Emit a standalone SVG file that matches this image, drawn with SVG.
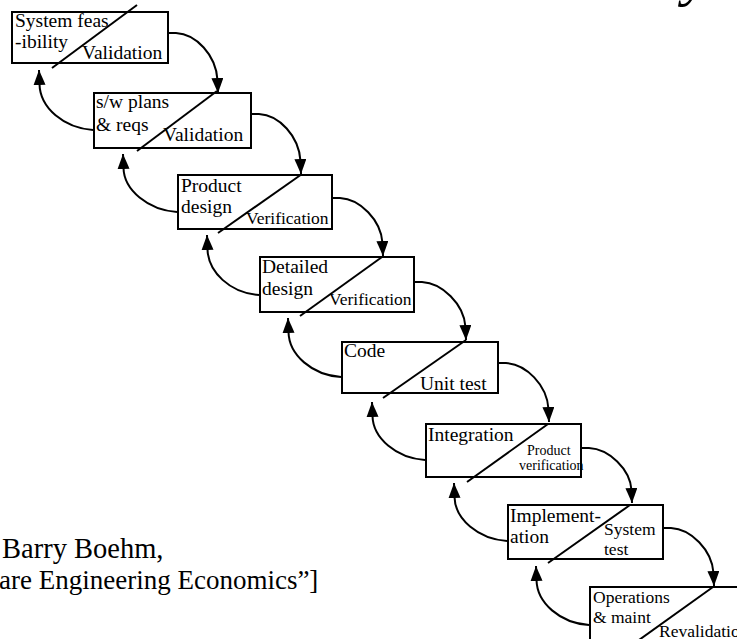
<svg xmlns="http://www.w3.org/2000/svg" width="737" height="639" viewBox="0 0 737 639">
  <style>
    .box { fill: #fff; stroke: #000; stroke-width: 2; }
    .diag { stroke: #000; stroke-width: 2; fill: none; }
    .arc { stroke: #000; stroke-width: 2; fill: none; marker-end: url(#head); }
    .lbl { font-size: 19.5px; }
    .sub { font-size: 17.5px; }
    .tiny { font-size: 14px; }
    .note { font-size: 28.5px; }
    .note2 { font-size: 27px; }
    .title { font-size: 60px; font-style: italic; }
  </style>
  <defs>
    <marker id="head" markerUnits="userSpaceOnUse" markerWidth="15" markerHeight="12" viewBox="0 0 15 12" refX="15" refY="6" orient="auto">
      <path d="M0,0 L15,6 L0,12 z" fill="#000"/>
    </marker>
  </defs>

  <rect width="737" height="639" fill="#fff"/>

  <g font-family="Liberation Serif, DejaVu Serif, serif" fill="#000">
    <!-- clipped title glyph at the top edge -->
    <text class="title" x="683" y="-6">y</text>

    <!-- reference note -->
    <text class="note" x="2" y="558">Barry Boehm,</text>
    <text class="note2" x="-1" y="589">are Engineering Economics”]</text>

    <!-- waterfall phases -->
    <g id="feasibility">
      <rect class="box" x="12" y="12" width="156" height="51"/>
      <line class="diag" x1="52" y1="68" x2="137" y2="5"/>
      <text class="lbl" x="15" y="27">System feas</text>
      <text class="lbl" x="15" y="48">-ibility</text>
      <text class="lbl" x="82" y="59">Validation</text>
    </g>

    <g id="plans">
      <rect class="box" x="94" y="93" width="157" height="55"/>
      <line class="diag" x1="137" y1="151" x2="217" y2="91"/>
      <text class="lbl" x="96" y="108">s/w plans</text>
      <text class="lbl" x="96" y="131">&amp; reqs</text>
      <text class="lbl" x="163" y="141">Validation</text>
    </g>

    <g id="product-design">
      <rect class="box" x="178" y="175" width="154" height="54"/>
      <line class="diag" x1="218" y1="233" x2="302" y2="174"/>
      <text class="lbl" x="181" y="192">Product</text>
      <text class="lbl" x="181" y="213">design</text>
      <text class="sub" x="246" y="224">Verification</text>
    </g>

    <g id="detailed-design">
      <rect class="box" x="260" y="257" width="154" height="55"/>
      <line class="diag" x1="300" y1="316" x2="382" y2="257"/>
      <text class="lbl" x="262" y="273">Detailed</text>
      <text class="lbl" x="262" y="295">design</text>
      <text class="sub" x="329" y="305">Verification</text>
    </g>

    <g id="code">
      <rect class="box" x="342" y="342" width="156" height="51"/>
      <line class="diag" x1="383" y1="398" x2="466" y2="340"/>
      <text class="lbl" x="344" y="357">Code</text>
      <text class="lbl" x="420" y="390">Unit test</text>
    </g>

    <g id="integration">
      <rect class="box" x="426" y="424" width="155" height="53"/>
      <line class="diag" x1="467" y1="482" x2="548" y2="424"/>
      <text class="lbl" x="428" y="441">Integration</text>
      <text class="tiny" x="527" y="455">Product</text>
      <text class="tiny" x="519" y="470">verification</text>
    </g>

    <g id="implementation">
      <rect class="box" x="508" y="505" width="155" height="54"/>
      <line class="diag" x1="548" y1="563" x2="630" y2="505"/>
      <text class="lbl" x="510" y="522">Implement-</text>
      <text class="lbl" x="510" y="543">ation</text>
      <text class="sub" x="604" y="535">System</text>
      <text class="sub" x="604" y="555">test</text>
    </g>

    <g id="operations">
      <rect class="box" x="590" y="587" width="156" height="55"/>
      <line class="diag" x1="632" y1="645" x2="713" y2="587"/>
      <text class="sub" x="593" y="603">Operations</text>
      <text class="sub" x="593" y="623">&amp; maint</text>
      <text class="sub" x="659" y="637">Revalidation</text>
    </g>
  </g>

  <!-- connectors: forward hand-offs and feedback loops -->
  <g id="connectors">
    <path class="arc" d="M168 33 L176 33 C196 34 216 55 217.5 80 L218 93"/>
    <path class="arc" d="M251 114 L259 114 C279 115 299 136 300.5 161 L301 174"/>
    <path class="arc" d="M332 198 L340 198 C360 199 381 220 382.5 243 L383 256"/>
    <path class="arc" d="M414 282 L422 282 C442 283 464 304 465.5 327 L466 340"/>
    <path class="arc" d="M498 363 L506 363 C526 364 547 385 548.5 409 L549 422"/>
    <path class="arc" d="M581 448 L589 448 C609 449 630 469 631.5 490 L632 503"/>
    <path class="arc" d="M663 528 L671 528 C691 529 712 550 713.5 573 L714 586"/>

    <path class="arc" d="M93 130 C64 128 40 108 39.5 84 L39 70"/>
    <path class="arc" d="M177 212 C148 210 124 190 123.5 168 L123 154"/>
    <path class="arc" d="M259 295 C230 293 208 272 207.5 249 L207 235"/>
    <path class="arc" d="M341 377 C312 375 289 355 288.5 332 L288 318"/>
    <path class="arc" d="M425 460 C396 458 373 438 372.5 416 L372 402"/>
    <path class="arc" d="M507 541 C478 539 455 519 454.5 497 L454 483"/>
    <path class="arc" d="M589 625 C560 623 537 603 536.5 580 L536 566"/>
  </g>
</svg>
